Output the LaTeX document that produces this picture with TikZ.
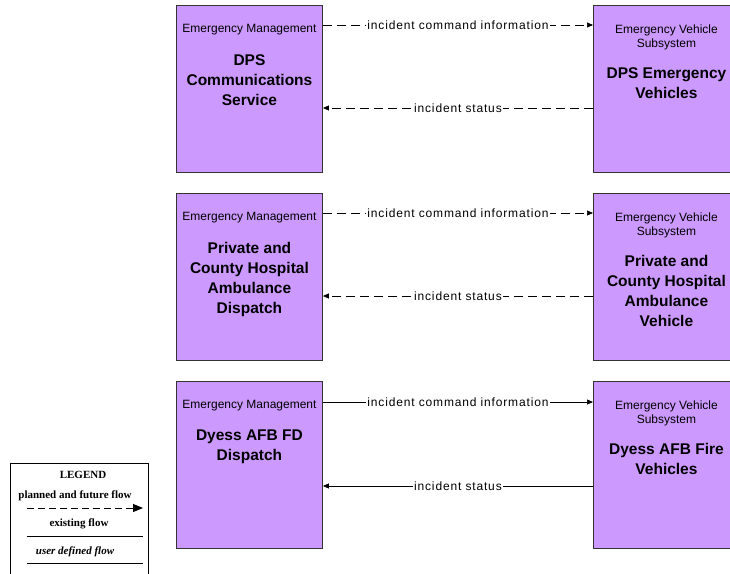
\documentclass[tikz,border=0pt]{standalone}
\usepackage{fontspec}
\setmainfont{Liberation Sans}
\newfontfamily\legfont{Liberation Serif}
\newfontfamily\wideflow[LetterSpace=7]{Liberation Sans}
\usetikzlibrary{arrows.meta}
\definecolor{boxfill}{HTML}{CC99FF}
\definecolor{boxline}{HTML}{333333}
\tikzset{
  sysbox/.style={draw=boxline, fill=boxfill, line width=0.9pt, minimum width=146pt, minimum height=167pt, anchor=north west, inner sep=0pt},
  hdr/.style={font=\fontsize{12}{13.5}\selectfont, align=center, inner sep=0pt},
  ttl/.style={font=\bfseries\fontsize{15.5}{20}\selectfont, align=center, inner sep=0pt, anchor=north},
  flowlabel/.style={fill=white, inner sep=1.2pt, font=\wideflow\fontsize{12}{12}\selectfont},
  tip/.style={-{Triangle[length=6pt,width=5pt]}},
  planned/.style={tip, line width=0.7pt, dash pattern=on 9pt off 5pt},
  existing/.style={tip, line width=0.7pt},
  legtext/.style={font=\legfont\bfseries\fontsize{11}{11}\selectfont, inner sep=0pt},
}
\begin{document}
\begin{tikzpicture}[x=1pt,y=-1pt]
\useasboundingbox (0,0) rectangle (730,573);

% ---- boxes ----
\node[sysbox] (l1) at (176,5) {};
\node[sysbox] (r1) at (593,5) {};
\node[sysbox] (l2) at (176,193) {};
\node[sysbox] (r2) at (593,193) {};
\node[sysbox] (l3) at (176,381) {};
\node[sysbox] (r3) at (593,381) {};

% ---- box texts ----
\node[hdr] (l1h) at ([yshift=-25pt]l1.north) {Emergency Management};
\node[ttl] (l1t) at ([yshift=-49pt]l1.north) {DPS\\Communications\\Service};
\node[hdr, anchor=north] (r1h) at ([yshift=-20pt]r1.north) {Emergency Vehicle\\Subsystem};
\node[ttl] (r1t) at ([yshift=-62pt]r1.north) {DPS Emergency\\Vehicles};

\node[hdr] (l2h) at ([yshift=-25pt]l2.north) {Emergency Management};
\node[ttl] (l2t) at ([yshift=-49pt]l2.north) {Private and\\County Hospital\\Ambulance\\Dispatch};
\node[hdr, anchor=north] (r2h) at ([yshift=-20pt]r2.north) {Emergency Vehicle\\Subsystem};
\node[ttl] (r2t) at ([yshift=-62pt]r2.north) {Private and\\County Hospital\\Ambulance\\Vehicle};

\node[hdr] (l3h) at ([yshift=-25pt]l3.north) {Emergency Management};
\node[ttl] (l3t) at ([yshift=-49pt]l3.north) {Dyess AFB FD\\Dispatch};
\node[hdr, anchor=north] (r3h) at ([yshift=-20pt]r3.north) {Emergency Vehicle\\Subsystem};
\node[ttl] (r3t) at ([yshift=-62pt]r3.north) {Dyess AFB Fire\\Vehicles};

% ---- flows ----
\draw[planned] ([yshift=-20pt]l1.north east) -- ([yshift=-20pt]r1.north west)
  node[midway, flowlabel] (f1) {incident command information};
\draw[planned] ([yshift=-103pt]r1.north west) -- ([yshift=-103pt]l1.north east)
  node[midway, flowlabel] (f2) {incident status};

\draw[planned] ([yshift=-20pt]l2.north east) -- ([yshift=-20pt]r2.north west)
  node[midway, flowlabel] (f3) {incident command information};
\draw[planned] ([yshift=-103pt]r2.north west) -- ([yshift=-103pt]l2.north east)
  node[midway, flowlabel] (f4) {incident status};

\draw[existing] ([yshift=-21pt]l3.north east) -- ([yshift=-21pt]r3.north west)
  node[midway, flowlabel] (f5) {incident command information};
\draw[existing] ([yshift=-105pt]r3.north west) -- ([yshift=-105pt]l3.north east)
  node[midway, flowlabel] (f6) {incident status};

% ---- legend ----
\node[draw=black, line width=0.9pt, minimum width=138pt, minimum height=130pt, anchor=north west, inner sep=0pt] (leg) at (10,463) {};
\node[legtext] (legt) at (83,475) {LEGEND};
\node[legtext] (legp) at (75,496) {planned and future flow};
\coordinate (pa) at (27,508);
\coordinate (pb) at (143,508);
\draw[line width=0.9pt, dash pattern=on 7pt off 4pt, -{Triangle[length=10pt,width=8pt]}] (pa) -- (pb);
\node[legtext] (lege) at (79,524) {existing flow};
\coordinate (ea) at (27,536);
\coordinate (eb) at (143,536);
\draw[line width=0.9pt] (ea) -- (eb);
\node[legtext, font=\legfont\bfseries\itshape\fontsize{11}{11}\selectfont] (legu) at (75,552) {user defined flow};
\coordinate (ua) at (27,563);
\coordinate (ub) at (143,563);
\draw[line width=0.9pt] (ua) -- (ub);
\end{tikzpicture}
\end{document}
